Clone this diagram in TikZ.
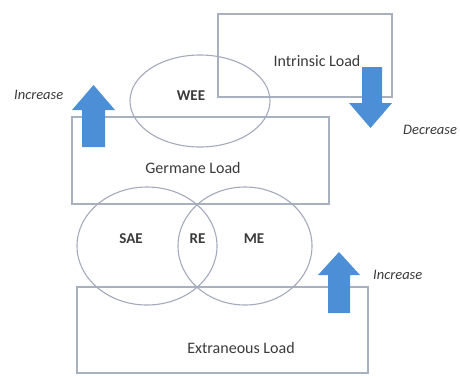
\documentclass[tikz,border=0pt]{standalone}
\usepackage{fontspec}
\setmainfont{Carlito}
\begin{document}
\begin{tikzpicture}[x=1pt,y=-1pt,
  loadbox/.style={draw=boxline,line width=1.1pt},
  zone/.style={draw=ringline,line width=1.1pt},
  lbl/.style={font=\fontsize{16}{18}\selectfont,text=txt},
  tag/.style={font=\fontsize{15}{17}\selectfont\bfseries,text=txt},
  side/.style={font=\fontsize{14.5}{16}\selectfont\itshape,text=txt},
  blockarrow/.style={fill=arrowblue,draw=none}]
\definecolor{boxline}{HTML}{A9B1C0}
\definecolor{ringline}{HTML}{A3AABB}
\definecolor{arrowblue}{HTML}{4C8FD6}
\definecolor{txt}{HTML}{3A3A3A}
\useasboundingbox (0,0) rectangle (460,376);

% load boxes
\draw[loadbox] (218,14) rectangle (392,97);
\draw[loadbox] (72,117) rectangle (329,204);
\draw[loadbox] (77,287) rectangle (368,373);
\node[lbl] (intr) at (317,61) {Intrinsic Load};
\node[lbl] (germ) at (193,168) {Germane Load};
\node[lbl] (extr) at (241,348) {Extraneous Load};

% effect regions
\draw[zone] (200,101) ellipse [x radius=70, y radius=46];
\draw[zone] (147,246) ellipse [x radius=70, y radius=59];
\draw[zone] (245,246) ellipse [x radius=67, y radius=59];
\node[tag] (wee) at (191,96) {WEE};
\node[tag] (sae) at (131,239) {SAE};
\node[tag] (re) at (197.5,239) {RE};
\node[tag] (me) at (254,239) {ME};

% direction arrows
\fill[blockarrow] (82,147) -- (82,110) -- (72,110) -- (93.5,85) -- (115,110) -- (105,110) -- (105,147) -- cycle;
\fill[blockarrow] (362,67) -- (382,67) -- (382,103) -- (392,103) -- (370.5,128) -- (349,103) -- (362,103) -- cycle;
\fill[blockarrow] (328,313) -- (328,275) -- (318,275) -- (339,252) -- (360,275) -- (350,275) -- (350,313) -- cycle;
\node[side,anchor=west,inner sep=0pt] (inc1) at (14,95) {Increase};
\node[side,anchor=west,inner sep=0pt] (dec) at (403,130) {Decrease};
\node[side,anchor=west,inner sep=0pt] (inc2) at (373,275) {Increase};
\end{tikzpicture}
\end{document}
